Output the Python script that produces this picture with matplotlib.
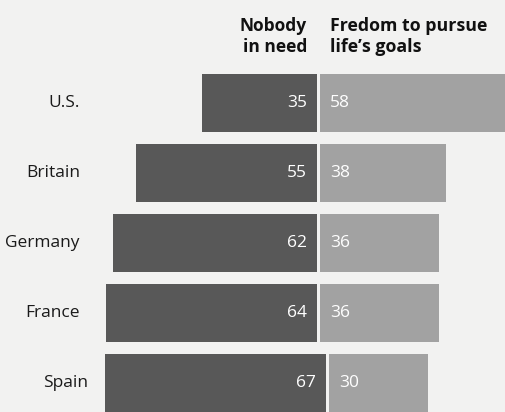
import matplotlib
matplotlib.use("Agg")
from matplotlib import pyplot as plt

# Data
countries = ["U.S.", "Britain", "Germany", "France", "Spain"]
nobody_in_need = [35, 55, 62, 64, 67]
freedom = [58, 38, 36, 36, 30]

# the last row is printed a little to the right in the original
row_shift = [0, 0, 0, 0, 2.6]

dark = "#585858"
light = "#a2a2a2"
bg = "#f2f2f1"
gap = 0.45

plt.rcParams["font.family"] = ["Open Sans", "DejaVu Sans"]

fig = plt.figure(figsize=(5.05, 4.12), dpi=100, facecolor=bg)
ax = fig.add_axes([0, 0, 1, 1], facecolor=bg)

y = list(range(len(countries)))

# Nobody in need (to the left), freedom (to the right)
ax.barh(y, [-v for v in nobody_in_need],
        left=[s - gap for s in row_shift], height=0.83, color=dark)
ax.barh(y, freedom, left=[s + gap for s in row_shift], height=0.83, color=light)

for i, c in enumerate(countries):
    s = row_shift[i]
    ax.text(-72.5 + s, i, c, ha="right", va="center",
            fontsize=12.5, color="#1a1a1a")
    ax.text(-3.6 + s, i, str(nobody_in_need[i]), ha="right", va="center",
            fontsize=12.5, color="white")
    ax.text(3.4 + s, i, str(freedom[i]), ha="left", va="center",
            fontsize=12.5, color="white")

# Column headers
ax.text(-3.6, -0.95, "Nobody\nin need", ha="right", va="center",
        multialignment="right", fontsize=12.5, fontweight="bold",
        color="#111111", linespacing=1.25)
ax.text(3.4, -0.95, "Fredom to pursue\nlife\u2019s goals", ha="left",
        va="center", multialignment="left", fontsize=12.8,
        fontweight="bold", color="#111111", linespacing=1.25)

ax.set_xlim(-96.7, 56.4)
ax.set_ylim(4.414, -1.47)
ax.axis("off")

fig.savefig("out.png", dpi=100, facecolor=bg)
